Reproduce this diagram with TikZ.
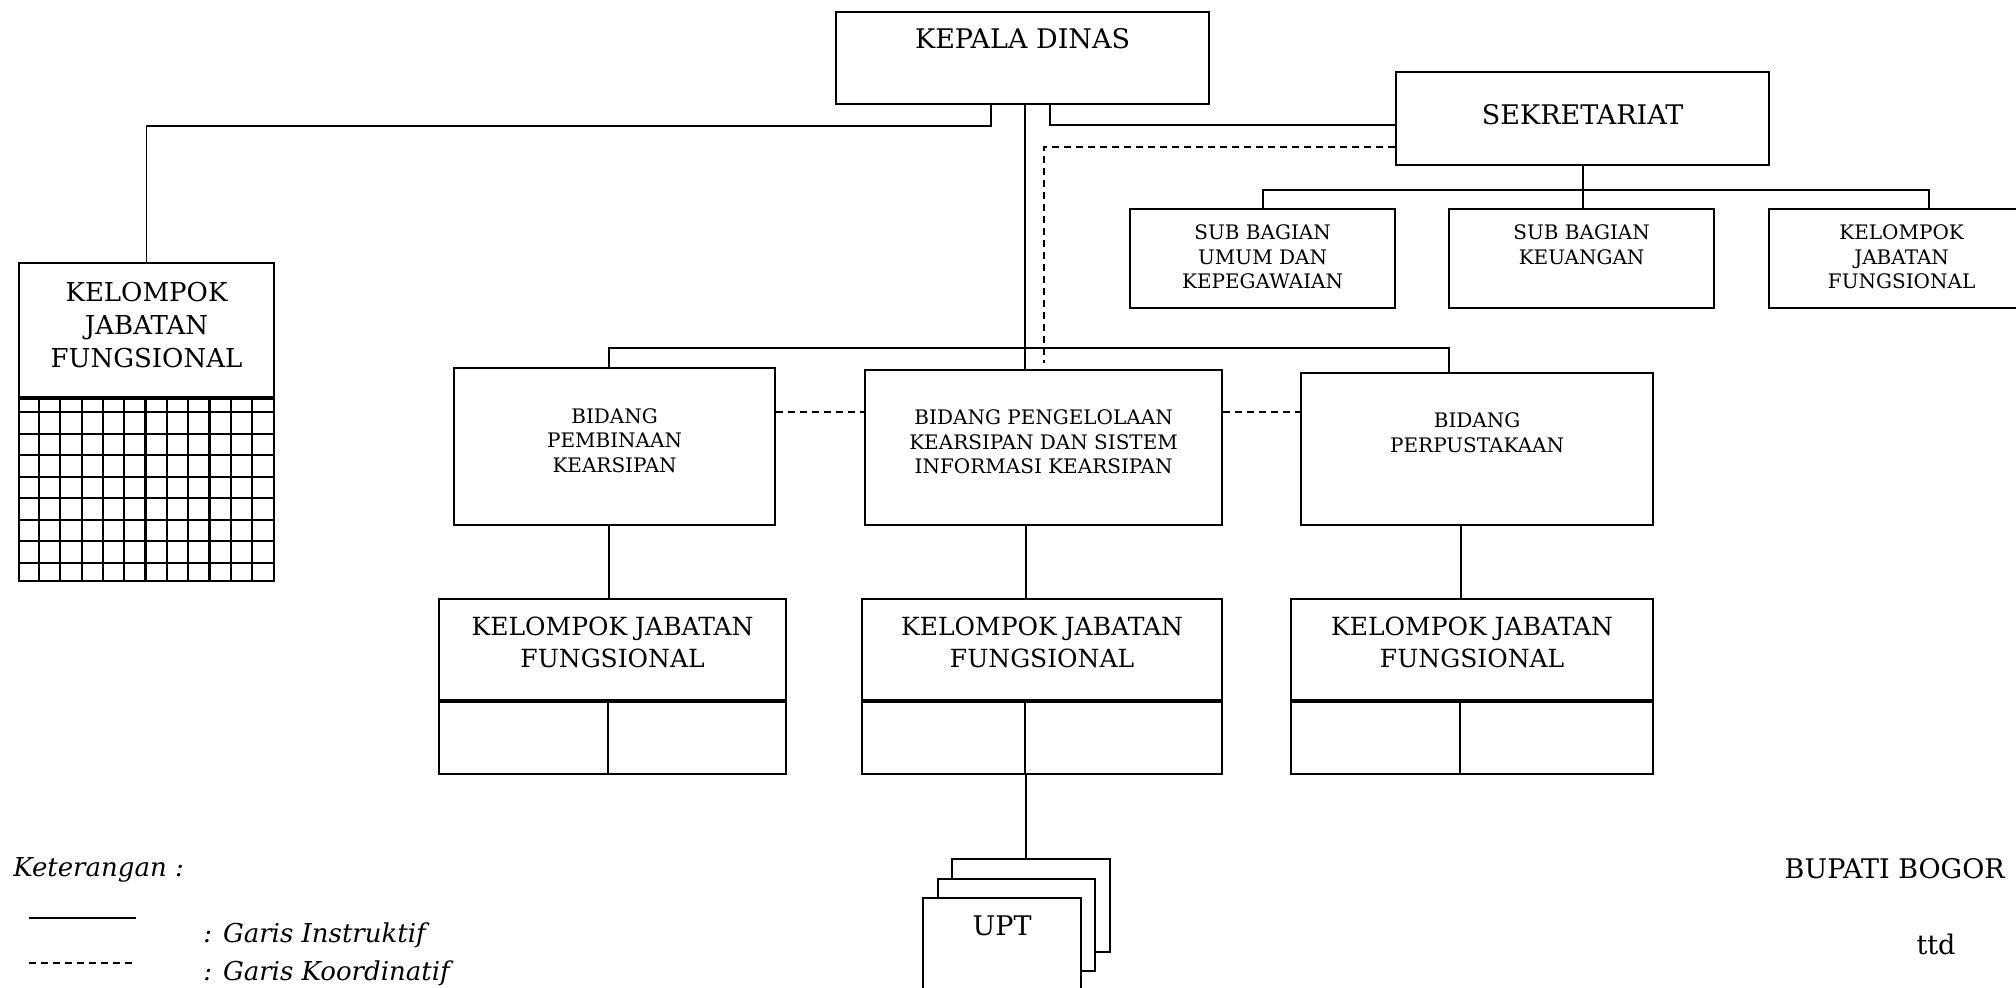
\documentclass[tikz,border=0pt]{standalone}
\usepackage{fontspec}
\setmainfont{DejaVu Serif}
\usepackage{tikz}
\usetikzlibrary{positioning}
\tikzstyle{unit}=[draw,rectangle,fill=white,line width=1.1pt,inner sep=0pt]
\tikzstyle{instr}=[line width=0.9pt]
\tikzstyle{koord}=[line width=0.9pt,dash pattern=on 3.5pt off 2.5pt]
\tikzstyle{bigtxt}=[font=\fontsize{13.5}{16}\selectfont,align=center]
\tikzstyle{midtxt}=[font=\fontsize{12.5}{16}\selectfont,align=center]
\tikzstyle{smalltxt}=[font=\fontsize{10}{12.25}\selectfont,align=center]
\tikzstyle{legtxt}=[font=\fontsize{13}{16}\selectfont\itshape,anchor=west]
\newcommand{\newUnit}[5]{\node[unit,anchor=north west,#3](#1) at (#4) {}; \node[#5](#1-t) at (#1.north) {#2};}
\newcommand{\newHalves}[3]{\node[unit,anchor=north west,minimum width=#2,minimum height=36pt](#1l) at (#1.south west) {};
  \node[unit,anchor=north east,minimum width=#3,minimum height=36pt](#1r) at (#1.south east) {};}

\begin{document}
\begin{tikzpicture}[x=0.5pt,y=-0.5pt,
    semithick  % lines in pt, y grows downwards
    ]
    \useasboundingbox (0,0) rectangle (2016,987);
    \clip (0,0) rectangle (2016,987);
    % top
    \newUnit{kd}{KEPALA DINAS}{minimum width=186.5pt,minimum height=46pt}{835,11}{bigtxt,yshift=-14pt}
    \newUnit{sek}{SEKRETARIAT}{minimum width=186.5pt,minimum height=46.5pt}{1395,71}{bigtxt,yshift=-22pt}
    \newUnit{sub1}{SUB BAGIAN\\UMUM DAN\\KEPEGAWAIAN}{minimum width=132.5pt,minimum height=49.5pt}{1129,208}{smalltxt,yshift=-24.5pt}
    \newUnit{sub2}{SUB BAGIAN\\KEUANGAN}{minimum width=132.5pt,minimum height=49.5pt}{1448,208}{smalltxt,yshift=-18.25pt}
    \newUnit{sub3}{KELOMPOK\\JABATAN\\FUNGSIONAL}{minimum width=132.5pt,minimum height=49.5pt}{1768,208}{smalltxt,yshift=-24.5pt}
    \newUnit{kjf0}{KELOMPOK\\JABATAN\\FUNGSIONAL}{minimum width=127.7pt,minimum height=67pt}{17.7,262}{font=\fontsize{13}{16.5}\selectfont,align=center,yshift=-31.5pt}
    \node[unit,anchor=north west,minimum width=127.7pt,minimum height=91pt] (kjf0g) at (kjf0.south west) {};
    \foreach \i in {1,...,11}
      \draw[line width=1.1pt] ([xshift=\i*10.65pt]kjf0g.north west) -- ([xshift=\i*10.65pt]kjf0g.south west);
    \foreach \j in {0,...,7}
      \draw[line width=1.1pt] ([yshift=-7pt-\j*10.75pt]kjf0g.north west) -- ([yshift=-7pt-\j*10.75pt]kjf0g.north east);
    % bidang
    \newUnit{bp}{BIDANG\\PEMBINAAN\\KEARSIPAN}{minimum width=160.5pt,minimum height=78.5pt}{453,367}{smalltxt,yshift=-36.75pt}
    \newUnit{bk}{BIDANG PENGELOLAAN\\KEARSIPAN DAN SISTEM\\INFORMASI KEARSIPAN}{minimum width=178.5pt,minimum height=77.5pt}{864,369}{smalltxt,yshift=-36.5pt}
    \newUnit{bpp}{BIDANG\\PERPUSTAKAAN}{minimum width=176pt,minimum height=76pt}{1300,372}{smalltxt,yshift=-30.25pt}
    % kelompok jabatan fungsional
    \newUnit{kjf1}{KELOMPOK JABATAN\\FUNGSIONAL}{minimum width=173.5pt,minimum height=50.5pt}{438,598}{midtxt,yshift=-22pt}
    \newUnit{kjf2}{KELOMPOK JABATAN\\FUNGSIONAL}{minimum width=180pt,minimum height=50.5pt}{861,598}{midtxt,yshift=-22pt}
    \newUnit{kjf3}{KELOMPOK JABATAN\\FUNGSIONAL}{minimum width=181pt,minimum height=50.5pt}{1290,598}{midtxt,yshift=-22pt}
    \newHalves{kjf1}{84.5pt}{89pt}
    \newHalves{kjf2}{81.5pt}{98.5pt}
    \newHalves{kjf3}{84.5pt}{96.5pt}
    % upt
    \node[unit,anchor=north west,minimum width=79pt,minimum height=46.5pt] (upt1) at (951,858) {};
    \node[unit,anchor=north west,minimum width=78.5pt,minimum height=46pt] (upt2) at (937,878) {};
    \newUnit{upt3}{UPT}{minimum width=79pt,minimum height=46.5pt}{922,897}{bigtxt,yshift=-14.5pt}
    % garis instruktif
    \draw[instr] ([xshift=-15.75pt]kd.south) -- ++(0,-10.5pt) -| (kjf0.north);
    \draw[instr] ([xshift=13.75pt]kd.south) |- ([yshift=-3.25pt]sek.west);
    \draw[instr] ([xshift=1.25pt]kd.south) -- ([xshift=1.25pt]kd.south |- bk.north);
    \coordinate (bus) at (1024,348);
    \draw[instr] ([xshift=-2.75pt]bp.north) |- (bus) -| ([xshift=-14pt]bpp.north);
    \draw[instr] (sek.south) -- ++(0,-12pt) coordinate (sbus);
    \draw[instr] (sub1.north) |- (sbus) -| ([xshift=13.75pt]sub3.north);
    \draw[instr] (sbus) -- (sbus |- sub2.north);
    \draw[instr] (kjf1l.north east |- bp.south) -- (kjf1l.north east |- kjf1.north);
    \draw[instr] (kjf2l.north east |- bk.south) -- (kjf2l.north east |- kjf2.north);
    \draw[instr] (kjf3l.north east |- bpp.south) -- (kjf3l.north east |- kjf3.north);
    \draw[instr] (kjf2l.south east) -- (kjf2l.south east |- upt1.north);
    % garis koordinatif
    \draw[koord] ([yshift=-14.25pt]sek.west) -| ([yshift=3pt]bk.north);
    \draw[koord] ([yshift=17.25pt]bp.east) -- ([yshift=17.25pt]bp.east -| bk.west);
    \draw[koord] ([yshift=17.25pt]bp.east -| bk.east) -- ([yshift=17.25pt]bp.east -| bpp.west);
    % keterangan
    \node[legtxt] (ket) at (6,870) {Keterangan :};
    \coordinate (l1a) at (29,918);
    \coordinate (l1b) at (136,918);
    \coordinate (l2a) at (29,963);
    \coordinate (l2b) at (136,963);
    \draw[instr] (l1a) -- (l1b);
    \draw[koord] (l2a) -- (l2b);
    \node[legtxt] (ins) at (196,935) {: Garis Instruktif};
    \node[legtxt] (kor) at (196,973) {: Garis Koordinatif};
    \node[bigtxt,anchor=east] (bupati) at (2012,869) {BUPATI BOGOR};
    \node[bigtxt] (ttd) at (1936,944) {ttd};
  \end{tikzpicture}
\end{document}
